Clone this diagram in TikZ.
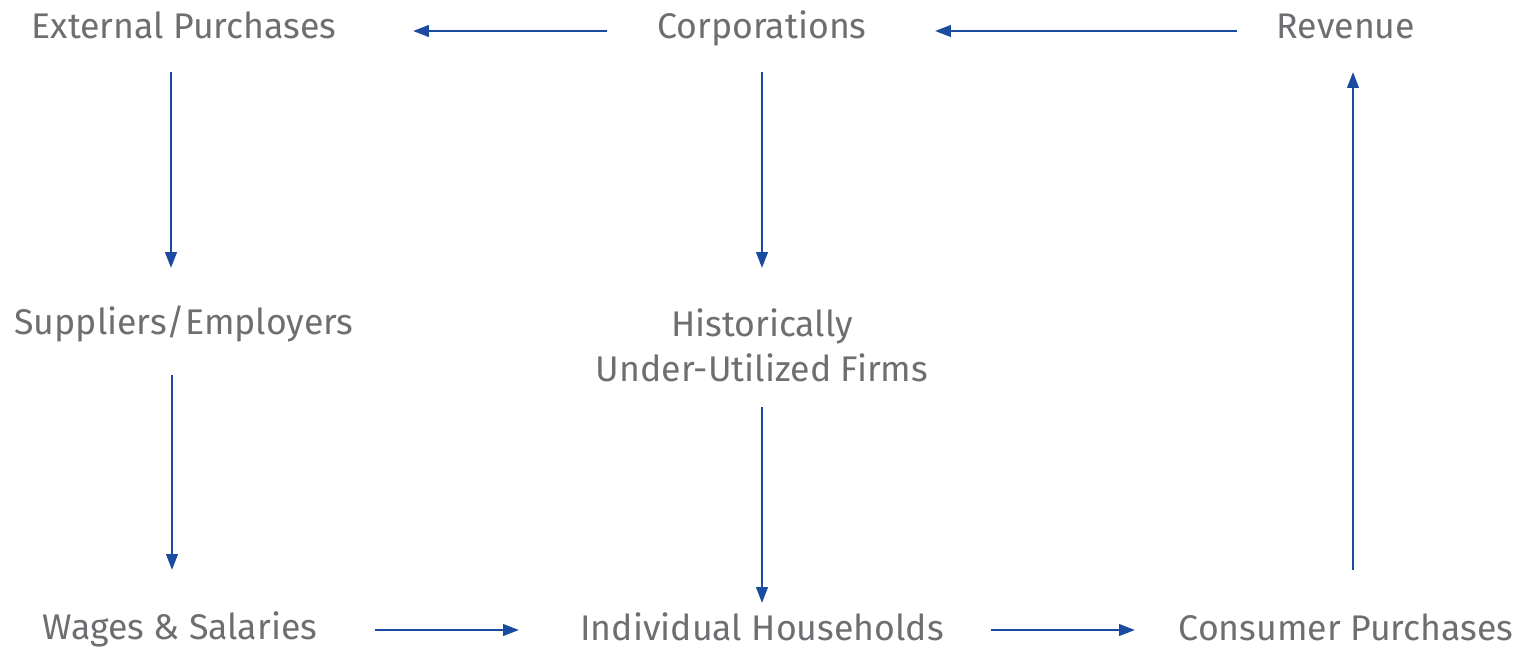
\documentclass[tikz,border=0pt]{standalone}
\usepackage{fontspec}
\setmainfont{Fira Sans}
\usetikzlibrary{arrows.meta,calc}
\definecolor{labelgray}{HTML}{6D6E71}
\definecolor{flowblue}{HTML}{1A4BA0}
\begin{document}
\begin{tikzpicture}[x=0.02cm,y=-0.02cm,
  lbl/.style={text=labelgray,font=\fontsize{20.3}{25.5}\selectfont,align=center,inner sep=0pt},
  one/.style={lbl,anchor=base},
  flow/.style={draw=flowblue,line width=1.4pt,-{Triangle[length=9pt,width=6.5pt]}}]
\useasboundingbox (0,0) rectangle (1522,650);
% labels (single-line ones sit on their baselines)
\node[one] (ext)  at (184,38)  {External Purchases};
\node[one] (corp) at (762,38)  {Corporations};
\node[one] (rev)  at (1346,38) {Revenue};
\node[one] (supp) at (184,334) {Suppliers/Employers};
\node[lbl] (hist) at (762,345) {Historically\\Under-Utilized Firms};
\node[one] (wage) at (180,639) {Wages \& Salaries};
\node[one] (hh)   at (762,640) {Individual Households};
\node[one] (cons) at (1346,640){Consumer Purchases};
% flows
\draw[flow] ($(corp.base)+(-155,-7)$) -- ($(ext.base)+(229,-7)$);
\draw[flow] ($(rev.base)+(-109,-7)$) -- ($(corp.base)+(173,-7)$);
\draw[flow] ($(ext.base)+(-13,34)$) -- ($(supp.base)+(-13,-66)$);
\draw[flow] ($(corp.base)+(0,34)$) -- ($(hist)+(0,-77)$);
\draw[flow] ($(supp.base)+(-12,41)$) -- ($(wage.base)+(-8,-69)$);
\draw[flow] ($(hist)+(0,62)$) -- ($(hh.base)+(0,-37)$);
\draw[flow] ($(wage.base)+(195,-9)$) -- ($(hh.base)+(-243,-10)$);
\draw[flow] ($(hh.base)+(229,-10)$) -- ($(cons.base)+(-211,-10)$);
\draw[flow] ($(cons.base)+(7,-70)$) -- ($(rev.base)+(7,34)$);
\end{tikzpicture}
\end{document}
